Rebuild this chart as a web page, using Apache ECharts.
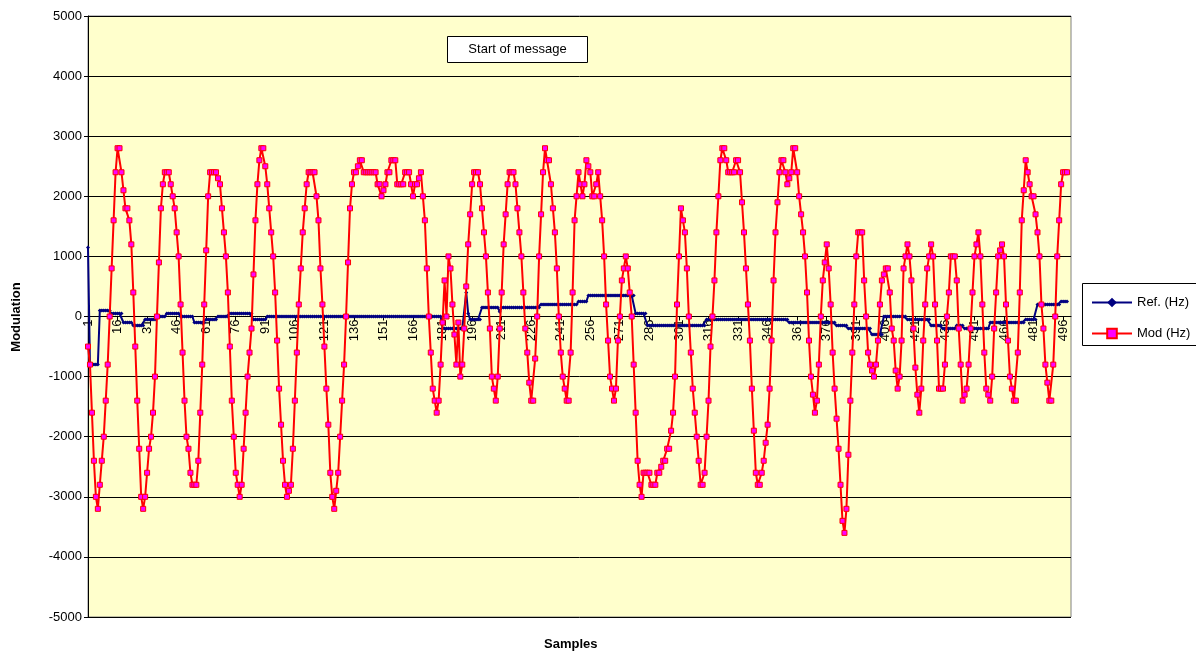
<!DOCTYPE html>
<html><head><meta charset="utf-8">
<script src="https://cdn.jsdelivr.net/npm/echarts@6/dist/echarts.min.js"></script>
<style>html,body{margin:0;padding:0;background:#fff}#c{width:1196px;height:655px}</style>
</head><body><div id="c"></div>
<script>
// Sample numbers on the category axis (1..500)
const categories = Array.from({length: 500}, (_, i) => String(i + 1));
const yTicks = [-5000,-4000,-3000,-2000,-1000,0,1000,2000,3000,4000,5000];

// Ref. (Hz)
const refHz = [
1150,
-800,-800,-800,-800,-800,
100,100,100,100,100,100,
50,50,50,50,50,50,
-100,-100,-100,-100,-100,
-150,-150,-150,-150,-150,-150,
-50,-50,-50,-50,-50,-50,
0,0,0,0,0,
50,50,50,50,50,50,50,
0,0,0,0,0,0,0,
-100,-100,-100,-100,-100,-100,
-50,-50,-50,-50,-50,-50,
0,0,0,0,0,0,
50,50,50,50,50,50,50,50,50,50,50,50,
-50,-50,-50,-50,-50,-50,-50,
0,0,0,0,0,0,0,0,0,0,0,0,0,0,0,0,0,0,0,0,0,0,0,0,0,0,0,0,0,0,
0,0,0,0,0,0,0,0,0,0,0,0,0,0,0,0,0,0,0,0,0,0,0,0,0,0,0,0,0,0,
0,0,0,0,0,0,0,0,0,0,0,0,0,0,0,0,0,0,0,0,0,0,0,0,0,0,0,0,0,
-200,-200,-200,-200,-200,-200,-200,-200,-200,-200,-200,-200,
400,
50,
-50,-50,-50,-50,-50,-50,
150,150,150,150,150,150,150,150,150,
80,
150,150,150,150,150,150,150,150,150,150,150,150,150,150,150,150,150,150,150,150,
200,200,200,200,200,200,200,200,200,200,200,200,200,200,200,200,200,200,200,
250,250,250,250,250,
350,350,350,350,350,350,350,350,350,350,350,350,350,350,350,350,350,350,350,350,350,350,350,350,
50,50,50,50,50,50,
-150,-150,-150,-150,-150,-150,-150,-150,-150,-150,-150,-150,-150,-150,-150,-150,-150,-150,-150,-150,-150,-150,-150,-150,-150,-150,-150,-150,-150,-150,
-50,-50,-50,-50,-50,-50,-50,-50,-50,-50,-50,-50,-50,-50,-50,-50,-50,-50,-50,-50,-50,-50,-50,-50,-50,-50,-50,-50,-50,-50,-50,-50,-50,-50,-50,-50,-50,-50,-50,-50,-50,-50,
-100,-100,-100,-100,-100,-100,-100,-100,-100,-100,-100,-100,-100,-100,-100,-100,-100,-100,-100,-100,-100,-100,-100,-100,
-150,-150,-150,-150,-150,-150,
-200,-200,-200,-200,-200,-200,-200,-200,-200,-200,-200,-200,
-300,-300,-300,-300,-300,-300,
0,0,0,0,0,0,0,0,0,0,0,0,
-50,-50,-50,-50,-50,-50,-50,-50,-50,-50,-50,-50,
-150,-150,-150,-150,-150,-150,
-200,-200,-200,-200,-200,-200,-200,
-150,-150,-150,-150,
-200,-200,-200,-200,-200,-200,-200,-200,-200,-200,-200,-200,-200,
-100,-100,-100,-100,-100,-100,-100,-100,-100,-100,-100,-100,-100,-100,-100,-100,-100,-100,
-50,-50,-50,-50,-50,-50,
200,200,200,200,200,200,200,200,200,200,200,200,
250,250,250,250
];

// Mod (Hz)
const modHz = [
-500,-800,-1600,-2400,-3000,-3200,-2800,-2400,-2000,-1400,
-800,0,800,1600,2400,2800,2800,2400,2100,1800,
1800,1600,1200,400,-500,-1400,-2200,-3000,-3200,-3000,
-2600,-2200,-2000,-1600,-1000,0,900,1800,2200,2400,
2400,2400,2200,2000,1800,1400,1000,200,-600,-1400,
-2000,-2200,-2600,-2800,-2800,-2800,-2400,-1600,-800,200,
1100,2000,2400,2400,2400,2400,2300,2200,1800,1400,
1000,400,-500,-1400,-2000,-2600,-2800,-3000,-2800,-2200,
-1600,-1000,-600,-200,700,1600,2200,2600,2800,2800,
2500,2200,1800,1400,1000,400,-400,-1200,-1800,-2400,
-2800,-3000,-2900,-2800,-2200,-1400,-600,200,800,1400,
1800,2200,2400,2400,2400,2400,2000,1600,800,200,
-500,-1200,-1800,-2600,-3000,-3200,-2900,-2600,-2000,-1400,
-800,0,900,1800,2200,2400,2400,2500,2600,2600,
2400,2400,2400,2400,2400,2400,2400,2200,2200,2000,
2100,2200,2400,2400,2600,2600,2600,2200,2200,2200,
2200,2400,2400,2400,2200,2000,2200,2200,2300,2400,
2000,1600,800,0,-600,-1200,-1400,-1600,-1400,-800,
-100,600,0,1000,800,200,-300,-800,-100,-1000,
-800,-200,500,1200,1700,2200,2400,2400,2400,2200,
1800,1400,1000,400,-200,-1000,-1200,-1400,-1000,-200,
400,1200,1700,2200,2400,2400,2400,2200,1800,1400,
1000,400,-200,-600,-1100,-1400,-1400,-700,0,1000,
1700,2400,2800,2600,2600,2200,1800,1400,800,0,
-600,-1000,-1200,-1400,-1400,-600,400,1600,2000,2400,
2200,2000,2200,2600,2500,2400,2000,2000,2200,2400,
2000,1600,1000,200,-400,-1000,-1200,-1400,-1200,-400,
0,600,800,1000,800,400,0,-800,-1600,-2400,
-2800,-3000,-2600,-2600,-2600,-2600,-2800,-2800,-2800,-2600,
-2600,-2500,-2400,-2400,-2200,-2200,-1900,-1600,-1000,200,
1000,1800,1600,1400,800,0,-600,-1200,-1600,-2000,
-2400,-2800,-2800,-2600,-2000,-1400,-500,0,600,1400,
2000,2600,2800,2800,2600,2400,2400,2400,2400,2600,
2600,2400,1900,1400,800,200,-400,-1200,-1900,-2600,
-2800,-2800,-2600,-2400,-2100,-1800,-1200,-400,600,1400,
1900,2400,2600,2600,2400,2200,2300,2400,2800,2800,
2400,2000,1700,1400,1000,400,-400,-1000,-1300,-1600,
-1400,-800,0,600,900,1200,800,200,-600,-1200,
-1700,-2200,-2800,-3400,-3600,-3200,-2300,-1400,-600,200,
1000,1400,1400,1400,600,0,-600,-800,-900,-1000,
-800,-400,200,600,700,800,800,400,-200,-400,
-900,-1200,-1000,-400,800,1000,1200,1000,600,-200,
-850,-1300,-1600,-1200,-400,200,800,1000,1200,1000,
200,-400,-1200,-1200,-1200,-800,0,400,1000,1000,
1000,600,-200,-800,-1400,-1300,-1200,-800,-200,400,
1000,1200,1400,1000,200,-600,-1200,-1300,-1400,-1000,
-200,400,1000,1100,1200,1000,200,-400,-1000,-1200,
-1400,-1400,-600,400,1600,2100,2600,2400,2200,2000,
2000,1700,1400,1000,200,-200,-800,-1100,-1400,-1400,
-800,0,1000,1600,2200,2400,2400,2400
];

const FONT = '"Liberation Sans", Arial, sans-serif';
const chart = echarts.init(document.getElementById('c'), null, {renderer: 'canvas'});
chart.setOption({
  animation: false,
  backgroundColor: '#ffffff',
  textStyle: {fontFamily: FONT},
  grid: {left: 88, right: 125, top: 16, bottom: 38, show: true,
         backgroundColor: '#FFFFCC', borderColor: '#808080', borderWidth: 1},
  xAxis: {
    type: 'category', data: categories, boundaryGap: false, position: 'bottom', offset: -300.5,
    axisLine: {onZero: false, lineStyle: {color: '#000', width: 1}},
    axisTick: {show: true, interval: 14, length: 4, lineStyle: {color: '#000'}},
    axisLabel: {interval: 14, rotate: 90, fontSize: 13, color: '#000', margin: 3, fontFamily: FONT},
    splitLine: {show: false}
  },
  yAxis: {
    type: 'value', min: yTicks[0], max: yTicks[yTicks.length - 1], interval: 1000,
    axisLine: {show: true, lineStyle: {color: '#000'}},
    axisTick: {show: true, length: 4, lineStyle: {color: '#000'}},
    axisLabel: {fontSize: 13, color: '#000', margin: 6, fontFamily: FONT, formatter: v => String(v)},
    splitLine: {show: true, lineStyle: {color: '#000', width: 1}}
  },
  legend: {
    orient: 'vertical', left: 1086, top: 291, itemGap: 18, itemWidth: 40, itemHeight: 12,
    textStyle: {fontSize: 13, color: '#000', fontFamily: FONT},
    data: ['Ref. (Hz)', 'Mod (Hz)']
  },
  graphic: [
    {type: 'rect', left: 1082, top: 283, z: 0, shape: {width: 116, height: 62},
     style: {fill: '#fff', stroke: '#000', lineWidth: 1}},
    {type: 'group', left: 447, top: 36, z: 10, children: [
      {type: 'rect', shape: {x: 0, y: 0, width: 140, height: 26}, style: {fill: '#fff', stroke: '#000', lineWidth: 1}},
      {type: 'text', x: 70, y: 13, style: {text: 'Start of message', fill: '#000', font: '13px ' + FONT, textAlign: 'center', textVerticalAlign: 'middle'}}
    ]},
    {type: 'text', left: 544, top: 638, style: {text: 'Samples', fill: '#000', font: 'bold 13px ' + FONT}},
    {type: 'text', x: 16, y: 317, rotation: Math.PI / 2, style: {text: 'Modulation', fill: '#000', font: 'bold 13px ' + FONT, textAlign: 'center', textVerticalAlign: 'middle'}}
  ],
  series: [
    {name: 'Ref. (Hz)', type: 'line', data: refHz, showSymbol: true, showAllSymbol: true,
     symbol: 'diamond', symbolSize: 4, itemStyle: {color: '#000080'},
     lineStyle: {color: '#000080', width: 2}, z: 3},
    {name: 'Mod (Hz)', type: 'line', data: modHz, showSymbol: true, showAllSymbol: true,
     symbol: 'rect', symbolSize: 5, itemStyle: {color: '#FF00FF', borderColor: '#FF0000', borderWidth: 1},
     lineStyle: {color: '#FF0000', width: 2}, z: 4}
  ]
});
</script></body></html>
